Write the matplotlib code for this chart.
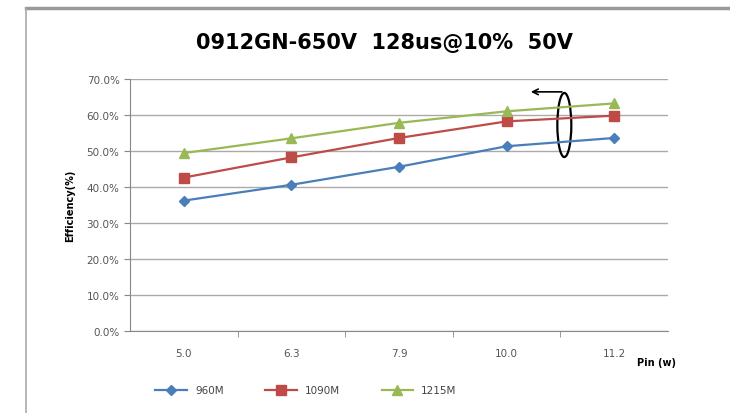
import numpy as np
import matplotlib.pyplot as plt
from matplotlib.patches import Ellipse
from matplotlib.lines import Line2D
from matplotlib.ticker import PercentFormatter

pin = ["5.0", "6.3", "7.9", "10.0", "11.2"]
eff_960 = [36.2, 40.6, 45.6, 51.3, 53.6]
eff_1090 = [42.6, 48.2, 53.6, 58.2, 59.8]
eff_1215 = [49.4, 53.5, 57.8, 61.0, 63.2]

fig = plt.figure(figsize=(7.3, 4.14), dpi=100)
ax = fig.add_axes([0.178, 0.198, 0.737, 0.609])

x = np.arange(len(pin))
ax.plot(x, eff_960, color="#4A7EBB", marker="D", markersize=5, lw=1.6, label="960M")
ax.plot(x, eff_1090, color="#BE4B48", marker="s", markersize=7, lw=1.6, label="1090M")
ax.plot(x, eff_1215, color="#98B954", marker="^", markersize=7, lw=1.6, label="1215M")

ax.set_xlim(-0.5, len(pin) - 0.5)
ax.set_ylim(0, 70)
ax.set_yticks(np.arange(0, 71, 10))
ax.yaxis.set_major_formatter(PercentFormatter(decimals=1))
ax.set_xticks(x)
ax.set_xticklabels(pin)
ax.set_xticks(np.arange(0.5, len(pin) - 0.5, 1), minor=True)
ax.tick_params(axis="x", which="major", length=0, pad=12)
ax.tick_params(axis="x", which="minor", length=4, color="#888888")
ax.tick_params(axis="y", length=4, color="#888888")
ax.tick_params(labelsize=7.5, labelcolor="#555555")
ax.grid(axis="y", color="#AAAAAA", lw=1)
ax.set_axisbelow(True)
for s in ["top", "right"]:
    ax.spines[s].set_visible(False)
ax.spines["left"].set_color("#888888")
ax.spines["bottom"].set_color("#888888")

ax.set_ylabel("Efficiency(%)", fontsize=7, fontweight="bold", labelpad=8)
fig.text(0.872, 0.115, "Pin (w)", fontsize=7, fontweight="bold")
fig.text(0.527, 0.895, "0912GN-650V  128us@10%  50V", fontsize=15, fontweight="bold",
         ha="center", va="center")

# circled group with arrow
ax.add_patch(Ellipse((3.537, 57.2), 0.13, 17.8, fill=False, lw=1.6, color="black"))
ax.annotate("", xy=(3.2, 66.4), xytext=(3.54, 66.4),
            arrowprops=dict(arrowstyle="->", lw=1.2, color="black"))

fig.legend(loc="lower left", bbox_to_anchor=(0.2, 0.02), ncol=3, frameon=False,
           fontsize=7.5, handlelength=3, columnspacing=4, labelcolor="#444444")

# outer frame
fig.add_artist(Line2D([0.036, 1.0], [0.978, 0.978], color="#999999", lw=2.5))
fig.add_artist(Line2D([0.036, 0.036], [0.0, 0.978], color="#AAAAAA", lw=1.2))

fig.savefig("out.png", dpi=100)
